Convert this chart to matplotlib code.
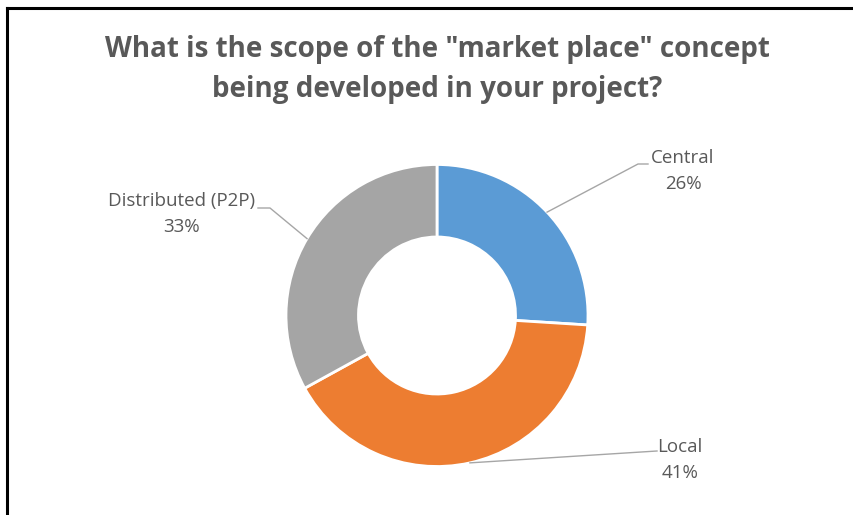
import numpy as np
import matplotlib.pyplot as plt
from matplotlib.lines import Line2D

labels = ["Central", "Local", "Distributed (P2P)"]
shares = [26, 41, 33]
colors = ["#5B9BD5", "#ED7D31", "#A5A5A5"]
title = 'What is the scope of the "market place" concept\nbeing developed in your project?'

W, H = 854, 515
fig = plt.figure(figsize=(W / 100, H / 100), dpi=100)
ax = fig.add_axes([0, 0, 1, 1])

cx, cy, R = 437, H - 315.5, 151
wedges, _ = ax.pie(shares, colors=colors, startangle=90, counterclock=False,
                   center=(cx, cy), radius=R, frame=True,
                   wedgeprops=dict(width=R * 0.48, edgecolor="white", linewidth=2))
ax.set_xlim(0, W)
ax.set_ylim(0, H)
ax.set_aspect("equal")
ax.axis("off")

txt = "#595959"
# leader elbows and text centres, pixel coords measured from the top
lay = {
    "Central": dict(elbow=[(638, 164), (648, 164)], text=(683, 171)),
    "Local": dict(elbow=[(657, 451)], text=(680, 460)),
    "Distributed (P2P)": dict(elbow=[(270, 208), (258, 208)], text=(182, 214)),
}

for w, lab, s in zip(wedges, labels, shares):
    ang = np.deg2rad((w.theta1 + w.theta2) / 2)
    x0 = cx + R * np.cos(ang)
    y0 = cy + R * np.sin(ang)
    pts = [(x0, y0)] + [(x, H - y) for x, y in lay[lab]["elbow"]]
    ax.add_line(Line2D([p[0] for p in pts], [p[1] for p in pts], color="#A6A6A6", lw=1))
    tx, ty = lay[lab]["text"]
    ax.text(tx, H - ty, f"{lab}\n{s}%", ha="center", va="center", color=txt,
            fontsize=13.5, family="Open Sans", linespacing=1.55)

ax.text(437, H - 69, title, ha="center", va="center", color=txt, fontsize=20,
        fontweight="bold", family="Open Sans", linespacing=1.5)

# frame on top and left edges
ax.add_line(Line2D([7.5, 7.5], [0, H - 7.5], color="black", lw=2.2))
ax.add_line(Line2D([7.5, W], [H - 7.5, H - 7.5], color="black", lw=2.2))

fig.savefig("out.png", dpi=100, facecolor="white")
